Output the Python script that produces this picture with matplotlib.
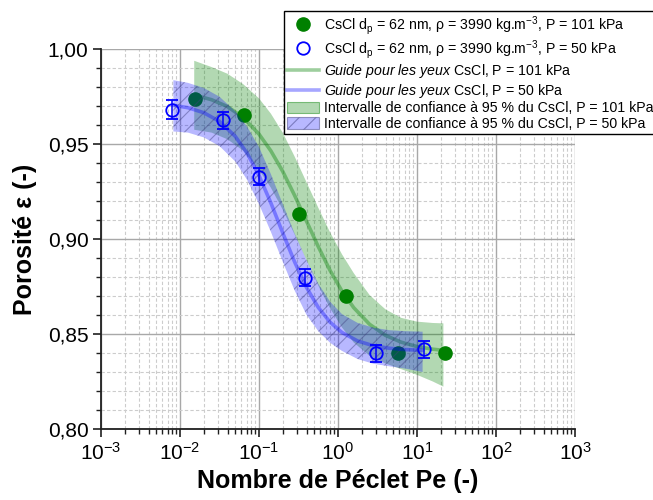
import numpy as np
import matplotlib
matplotlib.use('Agg')
import matplotlib.pyplot as plt
from matplotlib.lines import Line2D
from matplotlib.patches import Patch
from matplotlib.ticker import FixedLocator, LogLocator, NullFormatter, FixedFormatter

plt.rcParams['font.family'] = ['Liberation Sans', 'DejaVu Sans']
plt.rcParams['mathtext.fontset'] = 'custom'
plt.rcParams['mathtext.rm'] = 'Liberation Sans'
plt.rcParams['mathtext.it'] = 'Liberation Sans:italic'
plt.rcParams['mathtext.bf'] = 'Liberation Sans:bold'
plt.rcParams['hatch.linewidth'] = 0.8
plt.rcParams['hatch.color'] = (0.25, 0.25, 0.5, 0.45)

# ---------------- data ----------------
pe_101 = [0.0154, 0.0638, 0.319, 1.25, 5.8, 22.6]
eps_101 = [0.9735, 0.9653, 0.913, 0.870, 0.8402, 0.840]

pe_50 = [0.0080, 0.0346, 0.101, 0.385, 3.07, 12.3]
eps_50 = [0.968, 0.9626, 0.9328, 0.8796, 0.8398, 0.842]
err_50 = [0.005, 0.0045, 0.0045, 0.0045, 0.0045, 0.0045]

# guide curve / confidence band, P = 101 kPa (log10 Pe, centre, upper, lower)
guide_101_logpe = [-1.82, -1.6, -1.4, -1.2, -1.0, -0.85, -0.7, -0.55, -0.4, -0.25,
                   -0.1, 0.05, 0.2, 0.4, 0.6, 0.8, 1.0, 1.2, 1.334]
guide_101 = [0.9758, 0.9733, 0.9697, 0.9639, 0.9552, 0.9464, 0.9356, 0.9230, 0.9095, 0.8960,
             0.8834, 0.8726, 0.8638, 0.8551, 0.8493, 0.8457, 0.8434, 0.8420, 0.8414]
band_101_up = [0.9938, 0.9905, 0.9870, 0.9815, 0.9740, 0.9660, 0.9560, 0.9435, 0.9300, 0.9165,
               0.9035, 0.8920, 0.8820, 0.8705, 0.8630, 0.8585, 0.8565, 0.8558, 0.8556]
band_101_lo = [0.9575, 0.9560, 0.9525, 0.9465, 0.9365, 0.9270, 0.9155, 0.9025, 0.8890, 0.8755,
               0.8635, 0.8535, 0.8455, 0.8385, 0.8345, 0.8315, 0.8285, 0.8250, 0.8223]

# guide curve / confidence band, P = 50 kPa
guide_50_logpe = [-2.084, -1.9, -1.7, -1.5, -1.3, -1.15, -1.0, -0.85, -0.7, -0.55,
                  -0.4, -0.25, -0.1, 0.05, 0.25, 0.45, 0.65, 0.85, 1.071]
guide_50 = [0.9704, 0.9691, 0.9665, 0.9619, 0.9540, 0.9451, 0.9334, 0.9190, 0.9033, 0.8880,
            0.8746, 0.8640, 0.8562, 0.8508, 0.8463, 0.8438, 0.8425, 0.8418, 0.8414]
band_50_up = [0.9836, 0.9822, 0.9795, 0.9749, 0.9672, 0.9591, 0.9484, 0.9342, 0.9185, 0.9030,
              0.8890, 0.8765, 0.8670, 0.8605, 0.8558, 0.8533, 0.8520, 0.8515, 0.8512]
band_50_lo = [0.9566, 0.9560, 0.9535, 0.9489, 0.9408, 0.9311, 0.9184, 0.9038, 0.8881, 0.8730,
              0.8602, 0.8515, 0.8454, 0.8411, 0.8368, 0.8343, 0.8330, 0.8318, 0.8300]

yticks = [0.80, 0.85, 0.90, 0.95, 1.00]
ytick_labels = ['0,80', '0,85', '0,90', '0,95', '1,00']

labels = [
    r'CsCl d$_\mathregular{p}$ = 62 nm, ρ = 3990 kg.m$^\mathregular{-3}$, P = 101 kPa',
    r'CsCl d$_\mathregular{p}$ = 62 nm, ρ = 3990 kg.m$^\mathregular{-3}$, P = 50 kPa',
    r'$\mathit{Guide\ pour\ les\ yeux}$ CsCl, P = 101 kPa',
    r'$\mathit{Guide\ pour\ les\ yeux}$ CsCl, P = 50 kPa',
    'Intervalle de confiance à 95 % du CsCl, P = 101 kPa',
    'Intervalle de confiance à 95 % du CsCl, P = 50 kPa',
]

# ---------------- figure ----------------
fig = plt.figure(figsize=(6.53, 5.0), dpi=100)
ax = fig.add_axes([101 / 653, 1 - 429 / 500, (575 - 101) / 653, (429 - 49) / 500])

g_pe = np.power(10.0, guide_101_logpe)
b_pe = np.power(10.0, guide_50_logpe)

green = (0.0, 0.5, 0.0)
blue = (0.0, 0.0, 1.0)

ax.fill_between(g_pe, band_101_lo, band_101_up, facecolor=(0, 0.5, 0, 0.3),
                edgecolor='none', lw=0, zorder=2)
ax.plot(g_pe, guide_101, color=(0, 0.5, 0, 0.38), lw=2.6, zorder=3)
ax.plot(pe_101, eps_101, 'o', color=green, ms=9.5, mec=green, zorder=4)

ax.fill_between(b_pe, band_50_lo, band_50_up, facecolor=(0, 0, 1, 0.28),
                edgecolor=(0.25, 0.25, 0.5, 0.45), hatch='//', lw=0, zorder=5)
ax.plot(b_pe, guide_50, color=(0, 0, 1, 0.35), lw=2.6, zorder=6)
ax.errorbar(pe_50, eps_50, yerr=err_50, fmt='o', ms=9, mfc='none', mec=blue, mew=1.3,
            ecolor=blue, elinewidth=1.1, capsize=4, capthick=1.1, zorder=7)

ax.set_xscale('log')
ax.set_xlim(1e-3, 1e3)
ax.set_ylim(0.80, 1.00)

ax.yaxis.set_major_locator(FixedLocator(yticks))
ax.yaxis.set_major_formatter(FixedFormatter(ytick_labels))
ax.yaxis.set_minor_locator(FixedLocator(np.arange(0.80, 1.0001, 0.01)))
ax.xaxis.set_major_locator(LogLocator(base=10, numticks=20))
ax.xaxis.set_minor_locator(LogLocator(base=10, subs=np.arange(2, 10), numticks=100))
ax.xaxis.set_minor_formatter(NullFormatter())

ax.set_axisbelow(True)
ax.grid(True, which='major', color='#a8a8a8', lw=1.0, ls='-')
ax.grid(True, which='minor', color='#cccccc', lw=0.8, ls=(0, (3, 2)))

for s in ['top', 'right']:
    ax.spines[s].set_visible(False)
for s in ['left', 'bottom']:
    ax.spines[s].set_linewidth(1.3)
    ax.spines[s].set_color('#202020')

ax.tick_params(which='major', direction='out', length=6, width=1.2, labelsize=15,
               color='#202020', pad=3)
ax.tick_params(which='minor', direction='out', length=3.5, width=1.0, color='#202020')

ax.set_xlabel('Nombre de Péclet Pe (-)', fontsize=18, fontweight='bold', labelpad=4)
ax.set_ylabel('Porosité ε (-)', fontsize=18, fontweight='bold', labelpad=8)

handles = [
    Line2D([], [], ls='none', marker='o', color=green, ms=9.5),
    Line2D([], [], ls='none', marker='o', mfc='none', mec=blue, mew=1.3, ms=9),
    Line2D([], [], color=(0, 0.5, 0, 0.38), lw=2.6),
    Line2D([], [], color=(0, 0, 1, 0.35), lw=2.6),
    Patch(facecolor=(0, 0.5, 0, 0.3), edgecolor=(0, 0.5, 0, 0.45), lw=0.8),
    Patch(facecolor=(0, 0, 1, 0.28), edgecolor=(0.25, 0.25, 0.5, 0.5), hatch='//', lw=0.8),
]
leg = fig.legend(handles, labels, loc='upper left', bbox_to_anchor=(284 / 653, 1 - 11 / 500),
                 bbox_transform=fig.transFigure, fontsize=10.2, frameon=True, fancybox=False,
                 edgecolor='black', framealpha=1, borderpad=0.2, handlelength=2.3,
                 handleheight=0.9, handletextpad=0.3, labelspacing=0.1, borderaxespad=0)
leg.get_frame().set_linewidth(1.0)
leg.set_zorder(20)

fig.savefig('out.png', dpi=100)
